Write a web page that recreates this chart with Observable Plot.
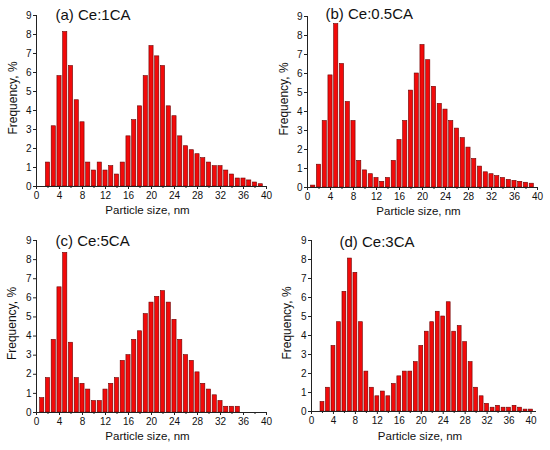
<!DOCTYPE html>
<html><head><meta charset="utf-8">
<script src="https://cdn.jsdelivr.net/npm/d3@7"></script>
<script src="https://cdn.jsdelivr.net/npm/@observablehq/plot@0.6"></script>
<style>
html,body{margin:0;padding:0;background:#fff;}
#wrap{position:relative;width:550px;height:450px;font-family:"Liberation Sans",Arial,sans-serif;}
.panel{position:absolute;}
</style></head><body><div id="wrap"></div>
<script>
// (a) Ce:1CA
const sizesA = [2,3,4,5,6,7,8,9,10,11,12,13,14,15,16,17,18,19,20,21,22,23,24,25,26,27,28,29,30,31,32,33,34,35,36,37,38,39];
const freqA  = [1.26,3.17,5.81,8.13,6.34,4.54,3.38,1.26,0.84,1.26,0.84,1.07,0.63,1.26,2.64,3.49,4.22,5.81,7.39,6.85,6.34,4.22,3.7,2.64,2.12,1.91,1.7,1.49,1.26,1.07,1.07,0.84,0.63,0.42,0.42,0.32,0.21,0.12];
// (b) Ce:0.5CA
const sizesB = [1,2,3,4,5,6,7,8,9,10,11,12,13,14,15,16,17,18,19,20,21,22,23,24,25,26,27,28,29,30,31,32,33,34,35,36,37,38,39];
const freqB  = [0.1,1.2,3.5,5.9,8.6,6.5,4.5,3.5,1.4,0.9,0.7,0.5,0.3,0.5,1.4,2.5,3.5,5.1,6.0,7.5,6.7,5.3,4.4,4.1,3.5,3.1,2.6,2.1,1.5,1.1,0.8,0.7,0.6,0.5,0.4,0.35,0.3,0.25,0.2];
// (c) Ce:5CA
const sizesC = [1,2,3,4,5,6,7,8,9,10,11,12,13,14,15,16,17,18,19,20,21,22,23,24,25,26,27,28,29,30,31,32,33,34,35];
const freqC  = [0.75,1.8,3.8,6.55,8.35,3.65,1.8,1.5,1.2,0.6,0.6,1.2,1.5,1.8,2.7,3.0,3.8,4.25,5.15,5.75,6.05,6.35,5.75,4.85,3.8,3.0,2.7,2.1,1.5,1.2,0.9,0.6,0.3,0.3,0.3];
// (d) Ce:3CA
const sizesD = [2,3,4,5,6,7,8,9,10,11,12,13,14,15,16,17,18,19,20,21,22,23,24,25,26,27,28,29,30,31,32,33,34,35,36,37,38,39,40];
const freqD  = [0.5,1.25,3.45,4.7,6.3,8.05,7.3,4.7,2.1,1.25,0.8,1.05,0.8,1.45,1.85,2.1,2.1,2.6,3.45,4.2,4.7,5.25,5.0,5.75,4.2,4.5,3.65,2.6,1.25,0.8,0.4,0.2,0.3,0.2,0.2,0.3,0.2,0.1,0.1];

const xTicks = [0,4,8,12,16,20,24,28,32,36,40];
const xMinor = [2,6,10,14,18,22,26,30,34,38];
const yTicks = [0,1,2,3,4,5,6,7,8,9];
const xLabel = "Particle size, nm";
const yLabel = "Frequency, %";
const titles = ["(a) Ce:1CA","(b) Ce:0.5CA","(c) Ce:5CA","(d) Ce:3CA"];

const panels = [
  {title:titles[0], sizes:sizesA, freq:freqA, left:0,   top:0,   ml:36, mr:9,  mt:15, mb:39, xmax:40, tdx:19, tdy:0,  ydx:-23, xdy:24},
  {title:titles[1], sizes:sizesB, freq:freqB, left:275, top:0,   ml:32, mr:13, mt:16, mb:38, xmax:40, tdx:18, tdy:-2, ydx:-23.5, xdy:24},
  {title:titles[2], sizes:sizesC, freq:freqC, left:0,   top:225, ml:36, mr:9,  mt:15, mb:38, xmax:40, tdx:19, tdy:1,  ydx:-24, xdy:24},
  {title:titles[3], sizes:sizesD, freq:freqD, left:275, top:225, ml:36, mr:14, mt:15, mb:39, xmax:41, tdx:28, tdy:2,  ydx:-24, xdy:25}
];

const wrap = document.getElementById("wrap");
for (const p of panels) {
  const data = p.sizes.map((s, i) => ({size: s, freq: p.freq[i]}));
  const chart = Plot.plot({
    width: 275, height: 225,
    marginLeft: p.ml, marginRight: p.mr, marginTop: p.mt, marginBottom: p.mb,
    style: {fontFamily: '"Liberation Sans", Arial, sans-serif', fontSize: "10px", color: "#111", background: "transparent", overflow: "visible"},
    x: {domain: [0, p.xmax]},
    y: {domain: [0, 9]},
    marks: [
      Plot.rectY(data, {x1: d => d.size - 0.5, x2: d => d.size + 0.5, y: "freq", fill: "#f20a0a", stroke: "#6a0000", strokeWidth: 0.6, insetLeft: 0.8, insetRight: 0.8}),
      Plot.ruleY([0], {stroke: "#222", strokeWidth: 1}),
      Plot.ruleX([0], {stroke: "#222", strokeWidth: 1}),
      Plot.axisX({ticks: xTicks, tickSize: 3, tickPadding: 2, label: null, stroke: "#222"}),
      Plot.axisX({ticks: xMinor, tickSize: 2, tickFormat: () => "", label: null, stroke: "#222"}),
      Plot.axisY({ticks: yTicks, tickSize: 3, tickPadding: 2, label: null, stroke: "#222"}),
      Plot.text([p.title], {frameAnchor: "top-left", textAnchor: "start", lineAnchor: "middle", dx: p.tdx, dy: p.tdy, fontSize: 15, fill: "#111"}),
      Plot.text([xLabel], {frameAnchor: "bottom", textAnchor: "middle", lineAnchor: "middle", dx: -4, dy: p.xdy, fontSize: 11.5, fill: "#111"}),
      Plot.text([yLabel], {frameAnchor: "left", textAnchor: "middle", lineAnchor: "middle", rotate: -90, dx: p.ydx, dy: -3, fontSize: 12, fill: "#111"})
    ]
  });
  const div = document.createElement("div");
  div.className = "panel";
  div.style.left = p.left + "px";
  div.style.top = p.top + "px";
  div.appendChild(chart);
  wrap.appendChild(div);
}
</script></body></html>
